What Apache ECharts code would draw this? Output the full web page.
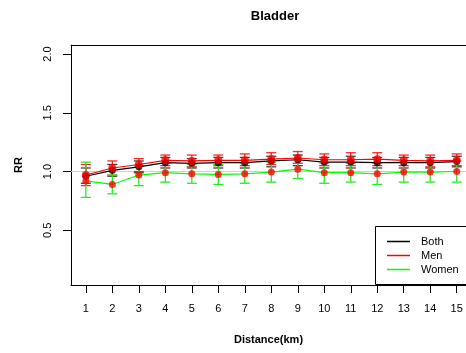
<!DOCTYPE html>
<html><head><meta charset="utf-8">
<script src="https://cdn.jsdelivr.net/npm/echarts@6/dist/echarts.min.js"></script>
<style>html,body{margin:0;padding:0;background:#fff}#c{width:466px;height:353px}</style>
</head><body><div id="c"></div>
<script>
const distances = [1,2,3,4,5,6,7,8,9,10,11,12,13,14,15];
const yTicks = [0.5, 1.0, 1.5, 2.0];
const bothRR = [0.96,1.01,1.04,1.075,1.07,1.075,1.075,1.09,1.10,1.08,1.08,1.075,1.075,1.075,1.085];
const bothLo = [0.90,0.96,0.99,1.03,1.03,1.03,1.03,1.04,1.05,1.03,1.03,1.03,1.03,1.03,1.04];
const bothHi = [1.03,1.06,1.09,1.12,1.11,1.12,1.12,1.13,1.14,1.12,1.13,1.12,1.12,1.12,1.13];
const menRR = [0.97,1.03,1.06,1.095,1.09,1.095,1.095,1.105,1.115,1.10,1.10,1.105,1.095,1.09,1.095];
const menLo = [0.88,0.97,1.00,1.05,1.04,1.05,1.05,1.06,1.07,1.05,1.05,1.05,1.05,1.04,1.05];
const menHi = [1.06,1.09,1.11,1.14,1.14,1.14,1.15,1.16,1.17,1.15,1.16,1.16,1.14,1.14,1.15];
const womenRR = [0.92,0.89,0.97,0.99,0.98,0.975,0.98,0.995,1.02,0.99,0.99,0.98,0.995,0.995,1.0];
const womenLo = [0.78,0.81,0.88,0.91,0.90,0.89,0.90,0.91,0.94,0.90,0.91,0.89,0.91,0.91,0.91];
const womenHi = [1.08,0.97,1.05,1.07,1.06,1.06,1.07,1.08,1.11,1.07,1.07,1.07,1.08,1.08,1.09];

const FONT = 'Liberation Sans, Arial, Helvetica, sans-serif';
function pts(v){ return distances.map((d,i)=>[d,v[i]]); }
function bars(lo,hi){ return distances.map((d,i)=>[d,lo[i],hi[i]]); }
function errSeries(name, lo, hi, color){
  return {
    type:'custom', name: name+'_err', silent:true, z:2,
    data: bars(lo,hi),
    renderItem: function(params, api){
      const x = api.value(0);
      const a = api.coord([x, api.value(1)]);
      const b = api.coord([x, api.value(2)]);
      const w = 5;
      const st = {stroke: color, lineWidth: 1.3};
      return {type:'group', children:[
        {type:'line', shape:{x1:a[0],y1:a[1],x2:b[0],y2:b[1]}, style:st},
        {type:'line', shape:{x1:a[0]-w,y1:a[1],x2:a[0]+w,y2:a[1]}, style:st},
        {type:'line', shape:{x1:b[0]-w,y1:b[1],x2:b[0]+w,y2:b[1]}, style:st}
      ]};
    }
  };
}
function lineSeries(name, v, color){
  return {type:'line', name:name, data:pts(v), color:color, symbol:'none',
    lineStyle:{color:color, width:1.2}, z:3, silent:true, animation:false};
}
function ptSeries(name, v, color, size){
  return {type:'scatter', name:name+'_pts', data:pts(v), symbol:'circle', symbolSize:size,
    itemStyle:{color:color}, z:4, silent:true};
}
const X_MIN = 0.44, X_MAX_VISIBLE = 15.35;
const chart = echarts.init(document.getElementById('c'));
chart.setOption({
  animation:false,
  backgroundColor:'#fff',
  title:{text:'Bladder', left:270, top:5, textAlign:'center',
    textStyle:{fontFamily:FONT, fontSize:13, fontWeight:'bold', color:'#000'}},
  grid:{left:71, top:45, right:0, height:240, show:false},
  graphic:[{type:'rect', z:90, shape:{x:375.5, y:226.5, width:120, height:58},
    style:{fill:'#fff', stroke:'#000', lineWidth:1}}],
  legend:{
    data:['Both','Men','Women'], orient:'vertical', left:375, top:226.5, z:100,
    icon:'rect', itemWidth:23, itemHeight:1.5, itemGap:3,
    padding:[9.5,20,8,12], borderWidth:0,
    textStyle:{fontFamily:FONT, fontSize:11, color:'#000', padding:[0,0,0,6]},
    selectedMode:false
  },
  xAxis:[{type:'value', min:X_MIN, max:X_MAX_VISIBLE, position:'bottom',
    name:'Distance(km)', nameLocation:'middle', nameGap:49,
    nameTextStyle:{fontFamily:FONT, fontSize:11, fontWeight:'bold', color:'#000'},
    axisLine:{show:true, lineStyle:{color:'#000'}},
    axisTick:{show:true, length:8, customValues:distances, lineStyle:{color:'#000'}},
    axisLabel:{customValues:distances, margin:18, fontFamily:FONT, fontSize:11, color:'#000'},
    splitLine:{show:false}},
   {type:'value', min:X_MIN, max:X_MAX_VISIBLE, position:'top',
    axisLine:{show:true, lineStyle:{color:'#000'}},
    axisTick:{show:false}, axisLabel:{show:false}, splitLine:{show:false}}],
  yAxis:{type:'value', min:0.034, max:2.077,
    name:'RR', nameLocation:'middle', nameGap:47, nameRotate:90,
    nameTextStyle:{fontFamily:FONT, fontSize:11, fontWeight:'bold', color:'#000'},
    axisLine:{show:true, lineStyle:{color:'#000'}},
    axisTick:{show:true, length:8, customValues:yTicks, lineStyle:{color:'#000'}},
    axisLabel:{customValues:yTicks, rotate:90, margin:18, fontFamily:FONT, fontSize:11, color:'#000',
      formatter:v=>v.toFixed(1)},
    splitLine:{show:false}},
  series:[
    {type:'line', name:'ref', data:[[X_MIN,1],[X_MAX_VISIBLE,1]], symbol:'none', silent:true,
      lineStyle:{color:'#d0d0d0', width:1}, z:1},
    errSeries('Both', bothLo, bothHi, 'rgba(0,0,0,0.75)'),
    errSeries('Men', menLo, menHi, 'rgba(255,0,0,0.85)'),
    errSeries('Women', womenLo, womenHi, '#22ee22'),
    lineSeries('Both', bothRR, '#000000'),
    lineSeries('Men', menRR, '#ff0000'),
    lineSeries('Women', womenRR, '#00ff00'),
    ptSeries('Both', bothRR, '#000000', 7),
    ptSeries('Women', womenRR, '#ff0000', 7),
    ptSeries('Men', menRR, '#ff0000', 8)
  ]
});
</script></body></html>
